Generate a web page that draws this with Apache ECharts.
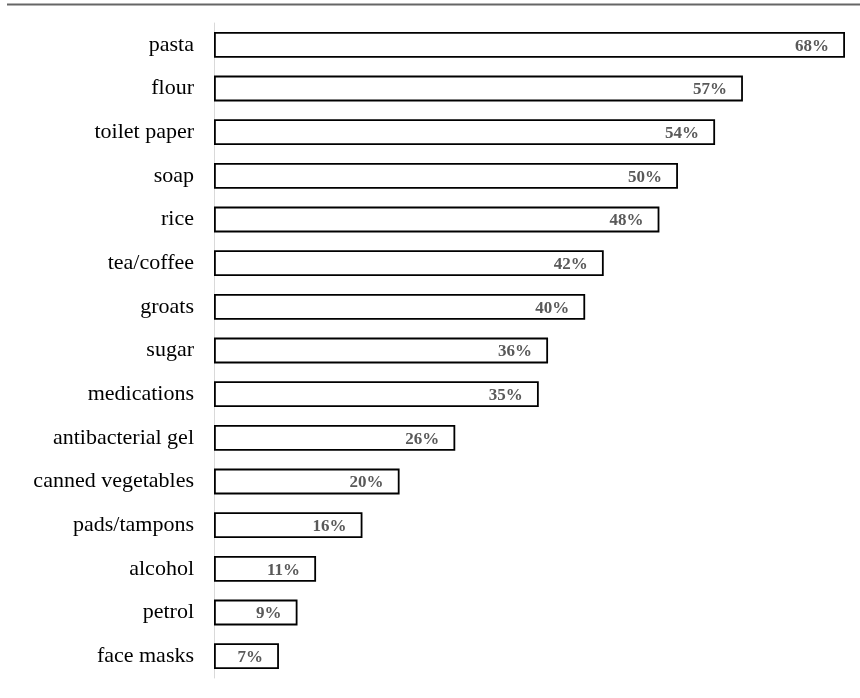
<!DOCTYPE html>
<html>
<head>
<meta charset="utf-8">
<script src="https://cdn.jsdelivr.net/npm/echarts@6/dist/echarts.min.js"></script>
<style>html,body{margin:0;padding:0;background:#fff}#c{width:860px;height:698px}</style>
</head>
<body>
<div id="c"></div>
<script>
const categories = ["pasta","flour","toilet paper","soap","rice","tea/coffee","groats","sugar","medications","antibacterial gel","canned vegetables","pads/tampons","alcohol","petrol","face masks"];
const values = [68,57,54,50,48,42,40,36,35,26,20,16,11,9,7];

const chart = echarts.init(document.getElementById('c'), null, {renderer:'canvas'});
chart.setOption({
  animation:false,
  backgroundColor:'#fff',
  graphic:[{type:'line',shape:{x1:7,y1:4.5,x2:860,y2:4.5},style:{stroke:'#666',lineWidth:2}}],
  grid:{left:214,right:15,top:23,bottom:20,containLabel:false},
  xAxis:{type:'value',min:0,max:68,show:false},
  yAxis:{type:'category',data:categories,inverse:true,
    axisLine:{show:true,lineStyle:{color:'#d9d9d9',width:1}},
    axisTick:{show:false},
    axisLabel:{color:'#000',fontFamily:'Liberation Serif',fontSize:22,margin:20}},
  series:[{type:'bar',data:values,barCategoryGap:'41%',
    itemStyle:{color:'#fff',borderColor:'#000',borderWidth:1.8},
    label:{show:true,position:'insideRight',distance:16,offset:[0,1.5],formatter:'{c}%',
      color:'#595959',fontFamily:'Liberation Serif',fontWeight:'bold',fontSize:17}}]
});
</script>
</body>
</html>
